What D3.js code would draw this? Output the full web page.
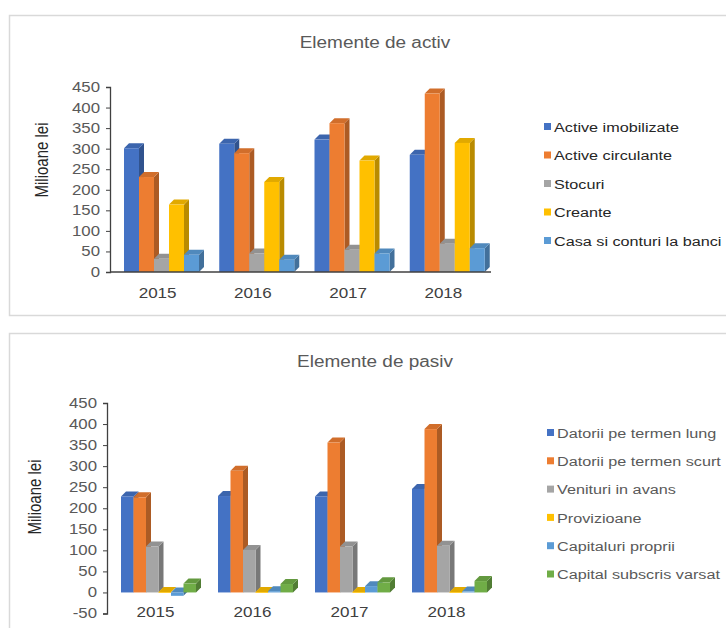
<!DOCTYPE html>
<html>
<head>
<meta charset="utf-8">
<script src="https://cdn.jsdelivr.net/npm/d3@7"></script>
<style>
  html, body { margin: 0; padding: 0; background: #fff; }
  svg { display: block; font-family: "Liberation Sans", Arial, sans-serif; }
</style>
</head>
<body>
<svg id="vis" width="726" height="628"></svg>
<script>
// data
var years = ["2015", "2016", "2017", "2018"];

var activSeries = ["Active imobilizate", "Active circulante", "Stocuri", "Creante", "Casa si conturi la banci"];
var activColors = ["#4472C4", "#ED7D31", "#A5A5A5", "#FFC000", "#5B9BD5"];
var activImobilizate = [301, 312, 322, 285];
var activeCirculante = [231, 289, 362, 434];
var stocuri = [32, 45, 54, 69];
var creante = [164, 219, 271, 314];
var casaBanci = [42, 30, 45, 58];

var pasivSeries = ["Datorii pe termen lung", "Datorii pe termen scurt", "Venituri in avans", "Provizioane", "Capitaluri proprii", "Capital subscris varsat"];
var pasivColors = ["#4472C4", "#ED7D31", "#A5A5A5", "#FFC000", "#5B9BD5", "#70AD47"];
var datoriiLung = [228, 229, 228, 246];
var datoriiScurt = [226, 289, 356, 388];
var venituriAvans = [109, 101, 109, 111];
var provizioane = [1, 1, 1, 1];
var capitaluriProprii = [-8, 3, 15, 2];
var capitalSubscris = [21, 20, 24, 27];

var yTicks = [0, 50, 100, 150, 200, 250, 300, 350, 400, 450];
var yTicksPasiv = [-50, 0, 50, 100, 150, 200, 250, 300, 350, 400, 450];

var svg = d3.select("#vis");
var depth = 5;
var sx = 1.2; // the original picture is a bit wider than tall

function drawChart(opts) {
  var g = svg.append("g");

  // panel
  g.append("rect")
    .attr("x", opts.box[0] + 0.5).attr("y", opts.box[1] + 0.5)
    .attr("width", opts.box[2]).attr("height", opts.box[3])
    .attr("fill", "#fff").attr("stroke", "#d9d9d9").attr("stroke-width", 1.5);

  g.append("text")
    .attr("transform", "translate(375," + opts.titleY + ") scale(" + sx + ",1)")
    .attr("text-anchor", "middle")
    .attr("font-size", "15.8px").attr("fill", "#595959")
    .text(opts.title);

  var y = d3.scaleLinear().domain(opts.yDomain).range(opts.yRange);
  var x0 = d3.scaleBand().domain(years).range(opts.xRange);
  var x1 = d3.scaleBand().domain(opts.series).range([14, 89]);

  // y axis
  var yAxis = g.append("g")
    .attr("transform", "translate(" + opts.xRange[0] + ",0)")
    .call(d3.axisLeft(y).tickValues(opts.ticks).tickSize(4).tickPadding(5)
      .tickFormat(function (d) { return String(d); }));
  yAxis.select("path.domain").attr("stroke", "#404040").attr("stroke-width", 1.3);
  yAxis.selectAll(".tick line").attr("stroke", "#404040");
  yAxis.selectAll(".tick text")
    .attr("x", -10 / sx)
    .attr("transform", "scale(" + sx + ",1)")
    .attr("font-size", "14px").attr("fill", "#595959")
    .attr("font-family", "Liberation Sans, Arial, sans-serif");

  g.append("text")
    .attr("transform", "translate(" + opts.yTitleX + "," + opts.yTitleY + ") rotate(-90) scale(1," + sx + ")")
    .attr("text-anchor", "middle")
    .attr("font-size", "15px").attr("fill", "#262626")
    .text("Milioane lei");

  // bars
  var rows = [];
  years.forEach(function (yr, i) {
    opts.series.forEach(function (s, j) {
      rows.push({ year: yr, series: s, value: opts.values[j][i], color: opts.colors[j] });
    });
  });

  var bw = x1.bandwidth();
  var bars = g.selectAll("g.bar").data(rows).enter().append("g").attr("class", "bar");

  bars.each(function (d) {
    var b = d3.select(this);
    var left = x0(d.year) + x1(d.series);
    var top = Math.min(y(d.value), y(0));
    var bottom = Math.max(y(d.value), y(0));
    var c = d3.color(d.color);
    // side face
    b.append("path")
      .attr("d", "M" + (left + bw) + "," + top +
        "L" + (left + bw + depth) + "," + (top - depth) +
        "L" + (left + bw + depth) + "," + (bottom - depth) +
        "L" + (left + bw) + "," + bottom + "Z")
      .attr("fill", c.darker(0.9));
    // top face
    b.append("path")
      .attr("d", "M" + left + "," + top +
        "L" + (left + depth) + "," + (top - depth) +
        "L" + (left + bw + depth) + "," + (top - depth) +
        "L" + (left + bw) + "," + top + "Z")
      .attr("fill", c.darker(0.35));
    // front face
    b.append("rect")
      .attr("x", left).attr("y", top)
      .attr("width", bw).attr("height", Math.max(bottom - top, 0.8))
      .attr("fill", d.color);
  });

  // x axis line
  if (opts.xLine) {
    g.append("line")
      .attr("x1", opts.xRange[0]).attr("x2", opts.xRange[1])
      .attr("y1", y(0)).attr("y2", y(0))
      .attr("stroke", "#404040").attr("stroke-width", 1.5);
  }

  g.selectAll("text.year").data(years).enter().append("text")
    .attr("class", "year")
    .attr("transform", function (d) { return "translate(" + (x0(d) + x0.bandwidth() / 2) + "," + opts.labelY + ") scale(" + sx + ",1)"; })
    .attr("text-anchor", "middle")
    .attr("font-size", "14.2px").attr("fill", "#404040")
    .text(function (d) { return d; });

  // legend
  var leg = g.selectAll("g.leg").data(opts.series).enter().append("g")
    .attr("class", "leg")
    .attr("transform", function (d, i) { return "translate(" + opts.legendX + "," + (opts.legendY + i * opts.legendStep) + ")"; });
  leg.append("rect")
    .attr("x", 0).attr("y", -4).attr("width", 7).attr("height", 7)
    .attr("fill", function (d, i) { return opts.colors[i]; });
  leg.append("text")
    .attr("transform", "translate(10,0) scale(" + sx + ",1)")
    .attr("dy", "0.35em")
    .attr("font-size", "13.5px").attr("fill", opts.legendColor)
    .text(function (d) { return d; });
}

drawChart({
  box: [9, 15, 730, 300],
  title: "Elemente de activ",
  titleY: 48,
  series: activSeries,
  colors: activColors,
  values: [activImobilizate, activeCirculante, stocuri, creante, casaBanci],
  yDomain: [0, 450],
  yRange: [272, 87],
  ticks: yTicks,
  xRange: [110, 491],
  yTitleX: 48,
  yTitleY: 160,
  xLine: true,
  labelY: 298,
  legendX: 544,
  legendY: 127,
  legendStep: 28.5,
  legendColor: "#262626"
});

drawChart({
  box: [9, 333, 730, 300],
  title: "Elemente de pasiv",
  titleY: 367,
  series: pasivSeries,
  colors: pasivColors,
  values: [datoriiLung, datoriiScurt, venituriAvans, provizioane, capitaluriProprii, capitalSubscris],
  yDomain: [-50, 450],
  yRange: [613.5, 403],
  ticks: yTicksPasiv,
  xRange: [107, 495],
  yTitleX: 41,
  yTitleY: 497,
  xLine: false,
  labelY: 617,
  legendX: 547,
  legendY: 433,
  legendStep: 28.3,
  legendColor: "#595959"
});
</script>
</body>
</html>
